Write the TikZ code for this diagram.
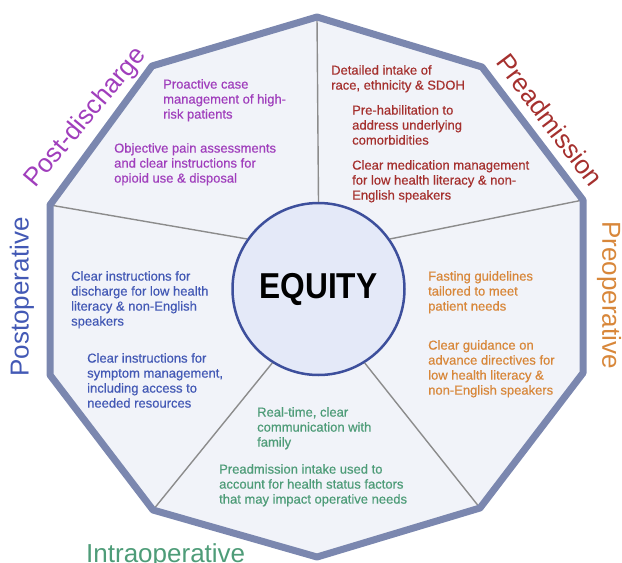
\documentclass[tikz,border=0pt]{standalone}
\usepackage{fontspec}
\setmainfont{Liberation Sans}
\newfontfamily\bodyfont[FakeBold=0.5]{Liberation Sans}
\definecolor{pdpurple}{HTML}{A03EBC}
\definecolor{pared}{HTML}{A5302E}
\definecolor{poorange}{HTML}{D8873A}
\definecolor{postblue}{HTML}{4359B5}
\definecolor{iogreen}{HTML}{4E9C78}
\definecolor{polystroke}{HTML}{7B87AF}
\definecolor{polyfill}{HTML}{F1F3F9}
\definecolor{divgray}{HTML}{8C8C8C}
\definecolor{eqfill}{HTML}{E4E9F8}
\definecolor{eqblue}{HTML}{3D4F9C}
\begin{document}
\begin{tikzpicture}[x=1pt,y=-1pt,
  body/.style={anchor=north west, inner sep=0pt, align=left, font=\bodyfont\fontsize{13}{15}\selectfont},
  phase/.style={inner sep=0pt, font=\fontsize{26}{28}\selectfont},
  divider/.style={draw=divgray, line width=1.4pt},
  hub/.style={circle, minimum size=172pt, inner sep=0pt, draw=eqblue, line width=2.5pt, fill=eqfill,
    font=\bfseries\fontsize{36}{40}\selectfont}]
\useasboundingbox (0,0) rectangle (622,563);
% decagon corners
\coordinate (v1) at (317,17);
\coordinate (v2) at (482,67);
\coordinate (v3) at (583,200);
\coordinate (v4) at (583,373);
\coordinate (v5) at (480,508);
\coordinate (v6) at (317,557);
\coordinate (v7) at (153,510);
\coordinate (v8) at (50,375);
\coordinate (v9) at (50,205);
\coordinate (v10) at (152,66);
\fill[polyfill] (v1) -- (v2) -- (v3) -- (v4) -- (v5) -- (v6) -- (v7) -- (v8) -- (v9) -- (v10) -- cycle;
% central hub
\node[hub] (eq) at (318.5,289) {\scalebox{0.88}[1]{EQUITY}};
% sector dividers
\draw[divider] (v1) -- (eq.90);
\draw[divider] (v3) -- (eq.35);
\draw[divider] (v5) -- (eq.-58);
\draw[divider] (v7) -- (eq.-122);
\draw[divider] (v9) -- (eq.145);
\draw[polystroke, line width=7pt, line join=round] (v1) -- (v2) -- (v3) -- (v4) -- (v5) -- (v6) -- (v7) -- (v8) -- (v9) -- (v10) -- cycle;
% Post-discharge
\node[body, text=pdpurple] (pd1) at (163,79) {Proactive case\\management of high-\\risk patients};
\node[body, text=pdpurple] (pd2) at (114,143) {Objective pain assessments\\and clear instructions for\\opioid use \& disposal};
% Preadmission
\node[body, text=pared] (pa1) at (331,65) {Detailed intake of\\race, ethnicity \& SDOH};
\node[body, text=pared] (pa2) at (352,105) {Pre-habilitation to\\address underlying\\comorbidities};
\node[body, text=pared] (pa3) at (352,160) {Clear medication management\\for low health literacy \& non-\\English speakers};
% Preoperative
\node[body, text=poorange] (pr1) at (428,271) {Fasting guidelines\\tailored to meet\\patient needs};
\node[body, text=poorange] (pr2) at (428,340) {Clear guidance on\\advance directives for\\low health literacy \&\\non-English speakers};
% Postoperative
\node[body, text=postblue] (po1) at (71,271) {Clear instructions for\\discharge for low health\\literacy \& non-English\\speakers};
\node[body, text=postblue] (po2) at (87,353) {Clear instructions for\\symptom management,\\including access to\\needed resources};
% Intraoperative
\node[body, text=iogreen] (io1) at (257,407) {Real-time, clear\\communication with\\family};
\node[body, text=iogreen] (io2) at (219,464) {Preadmission intake used to\\account for health status factors\\that may impact operative needs};
% phase titles
\node[phase, text=pdpurple, rotate=50] (tpd) at (86,118) {Post-discharge};
\node[phase, text=pared, rotate=-53] (tpa) at (550,120) {Preadmission};
\node[phase, text=poorange, rotate=-90] (tpr) at (609,295) {Preoperative};
\node[phase, text=postblue, rotate=90] (tpo) at (22,297) {Postoperative};
\node[phase, text=iogreen, anchor=base west] (tio) at (86,562) {Intraoperative};
\end{tikzpicture}
\end{document}
